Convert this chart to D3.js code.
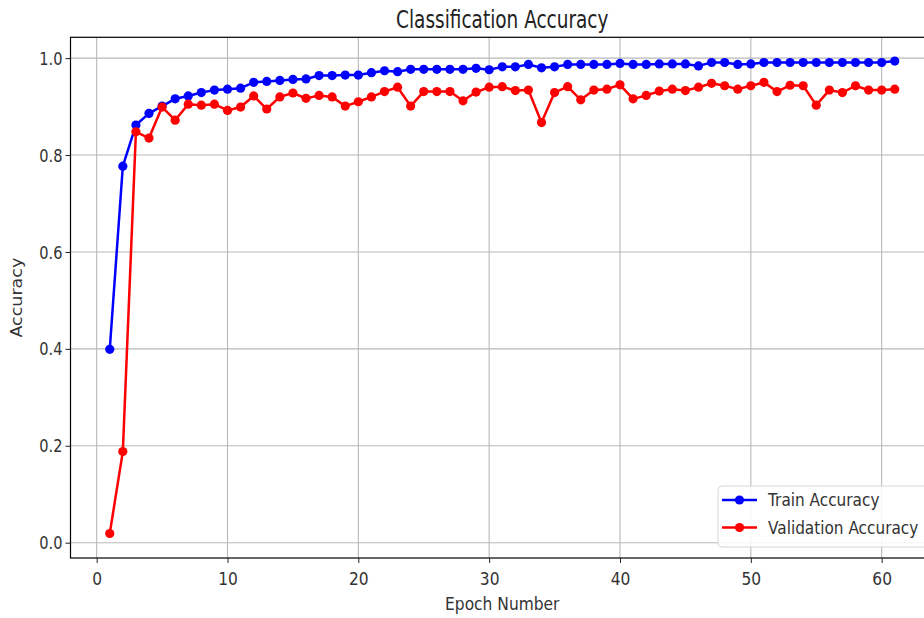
<!DOCTYPE html>
<html>
<head>
<meta charset="utf-8">
<script src="https://cdn.jsdelivr.net/npm/d3@7"></script>
<style>
  html, body { margin: 0; padding: 0; background: #ffffff; }
  svg { display: block; font-family: "DejaVu Sans", sans-serif; }
</style>
</head>
<body>
<svg id="chart" width="924" height="618"></svg>
<script>
// Training history: accuracy per epoch
const epochs = d3.range(1, 62);
const trainAccuracy = [
  0.399, 0.777, 0.862, 0.886, 0.901, 0.916, 0.922, 0.929, 0.934, 0.936,
  0.938, 0.950, 0.952, 0.954, 0.956, 0.957, 0.964, 0.964, 0.965, 0.965,
  0.970, 0.974, 0.972, 0.977, 0.977, 0.977, 0.977, 0.977, 0.979, 0.976,
  0.982, 0.982, 0.987, 0.980, 0.982, 0.987, 0.987, 0.987, 0.987, 0.989,
  0.987, 0.987, 0.988, 0.988, 0.988, 0.984, 0.991, 0.991, 0.987, 0.988,
  0.991, 0.991, 0.991, 0.991, 0.991, 0.991, 0.991, 0.991, 0.991, 0.991,
  0.994
];
const validationAccuracy = [
  0.019, 0.188, 0.848, 0.835, 0.899, 0.872, 0.905, 0.903, 0.905, 0.892,
  0.899, 0.922, 0.895, 0.920, 0.928, 0.917, 0.923, 0.920, 0.901, 0.910,
  0.920, 0.931, 0.940, 0.901, 0.931, 0.931, 0.931, 0.912, 0.930, 0.940,
  0.941, 0.933, 0.934, 0.867, 0.929, 0.941, 0.914, 0.934, 0.936, 0.945,
  0.916, 0.923, 0.932, 0.936, 0.933, 0.940, 0.948, 0.943, 0.936, 0.943,
  0.950, 0.931, 0.944, 0.943, 0.903, 0.934, 0.929, 0.943, 0.934, 0.934,
  0.936
];
const xTicks = [0, 10, 20, 30, 40, 50, 60];
const yTicks = [0.0, 0.2, 0.4, 0.6, 0.8, 1.0];
const seriesNames = ["Train Accuracy", "Validation Accuracy"];
const seriesColors = ["#0000ff", "#ff0000"];

const title = "Classification Accuracy";
const xLabel = "Epoch Number";
const yLabel = "Accuracy";

// Plot frame (the right edge runs past the canvas)
const frame = { left: 70.5, right: 934, top: 37.3, bottom: 558 };
const sx = 0.86; // horizontal text squeeze
const markerR = 4.6;
const lineW = 2.5;

const svg = d3.select("#chart");

const x = d3.scaleLinear().domain([-2, 64]).range([frame.left, frame.right]);
const y = d3.scaleLinear().domain([-0.0316, 1.043]).range([frame.bottom, frame.top]);

// Grid
const grid = svg.append("g").attr("class", "grid");
grid.selectAll("line.vx").data(xTicks).join("line")
  .attr("x1", d => x(d)).attr("x2", d => x(d))
  .attr("y1", frame.top).attr("y2", frame.bottom)
  .attr("stroke", "#b8b8b8").attr("stroke-width", 1.1);
grid.selectAll("line.hy").data(yTicks).join("line")
  .attr("x1", frame.left).attr("x2", frame.right)
  .attr("y1", d => y(d)).attr("y2", d => y(d))
  .attr("stroke", "#b8b8b8").attr("stroke-width", 1.1);

// Series
const series = [trainAccuracy, validationAccuracy];
const line = d3.line().x((d, i) => x(epochs[i])).y(d => y(d));
series.forEach((vals, k) => {
  const g = svg.append("g").attr("class", "series");
  g.append("path").datum(vals)
    .attr("d", line)
    .attr("fill", "none")
    .attr("stroke", seriesColors[k])
    .attr("stroke-width", lineW)
    .attr("stroke-linejoin", "round");
  g.selectAll("circle").data(vals).join("circle")
    .attr("cx", (d, i) => x(epochs[i]))
    .attr("cy", d => y(d))
    .attr("r", markerR)
    .attr("fill", seriesColors[k]);
});

// Frame
svg.append("rect")
  .attr("x", frame.left).attr("y", frame.top)
  .attr("width", frame.right - frame.left).attr("height", frame.bottom - frame.top)
  .attr("fill", "none").attr("stroke", "#000").attr("stroke-width", 1.2);

// Axes
const xAxis = svg.append("g")
  .attr("transform", `translate(0,${frame.bottom})`)
  .call(d3.axisBottom(x).tickValues(xTicks).tickFormat(d3.format("d")).tickSize(5).tickPadding(0));
xAxis.select(".domain").remove();
xAxis.selectAll("line").attr("stroke", "#222").attr("stroke-width", 1);
xAxis.selectAll("text")
  .attr("y", 27).attr("dy", null)
  .attr("transform", `scale(${sx},1)`)
  .attr("font-size", 18).attr("fill", "#333")
  .attr("font-family", "DejaVu Sans");

const yAxis = svg.append("g")
  .attr("transform", `translate(${frame.left},0)`)
  .call(d3.axisLeft(y).tickValues(yTicks).tickFormat(d3.format(".1f")).tickSize(5).tickPadding(0));
yAxis.select(".domain").remove();
yAxis.selectAll("line").attr("stroke", "#222").attr("stroke-width", 1);
yAxis.selectAll("text")
  .attr("x", -8 / sx).attr("dy", "0.36em")
  .attr("transform", `scale(${sx},1)`)
  .attr("font-size", 17).attr("fill", "#333")
  .attr("font-family", "DejaVu Sans");

// Title and axis labels
const midX = (frame.left + frame.right) / 2;
svg.append("text")
  .attr("transform", `translate(${midX},28) scale(0.77,1)`)
  .attr("text-anchor", "middle")
  .attr("font-size", 24).attr("fill", "#222")
  .text(title);
svg.append("text")
  .attr("transform", `translate(${midX},610) scale(${sx},1)`)
  .attr("text-anchor", "middle")
  .attr("font-size", 18).attr("fill", "#333")
  .text(xLabel);
svg.append("text")
  .attr("transform", `translate(22,${(frame.top + frame.bottom) / 2}) scale(${sx},1) rotate(-90)`)
  .attr("text-anchor", "middle")
  .attr("font-size", 17.5).attr("fill", "#333")
  .text(yLabel);

// Legend
const legend = svg.append("g").attr("class", "legend");
legend.append("rect")
  .attr("x", 718).attr("y", 486).attr("width", 240).attr("height", 61)
  .attr("rx", 4)
  .attr("fill", "#ffffff").attr("fill-opacity", 0.85)
  .attr("stroke", "#d6d6d6").attr("stroke-width", 1);
const rowY = [500, 527.5];
seriesNames.forEach((name, k) => {
  const row = legend.append("g");
  row.append("line")
    .attr("x1", 722).attr("x2", 757)
    .attr("y1", rowY[k]).attr("y2", rowY[k])
    .attr("stroke", seriesColors[k]).attr("stroke-width", lineW);
  row.append("circle")
    .attr("cx", 739.5).attr("cy", rowY[k]).attr("r", markerR)
    .attr("fill", seriesColors[k]);
  row.append("text")
    .attr("transform", `translate(768,${rowY[k] + 6}) scale(${sx},1)`)
    .attr("font-size", 17.8).attr("fill", "#333")
    .text(name);
});
</script>
</body>
</html>
